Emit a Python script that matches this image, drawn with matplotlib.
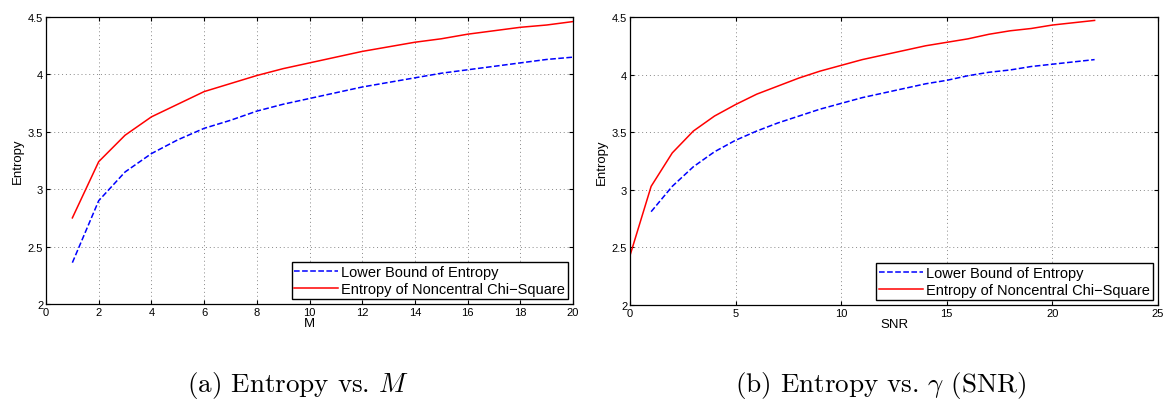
import matplotlib
matplotlib.use("Agg")
import matplotlib.pyplot as plt

plt.rcParams["font.family"] = ["Liberation Sans", "DejaVu Sans"]
plt.rcParams["mathtext.fontset"] = "cm"

# (a) entropy vs. M
m_vals = list(range(1, 21))
m_lower = [2.36, 2.90, 3.15, 3.31, 3.43, 3.53, 3.60, 3.68, 3.74, 3.79,
           3.84, 3.89, 3.93, 3.97, 4.01, 4.04, 4.07, 4.10, 4.13, 4.15]
m_chi = [2.75, 3.24, 3.47, 3.63, 3.74, 3.85, 3.92, 3.99, 4.05, 4.10,
         4.15, 4.20, 4.24, 4.28, 4.31, 4.35, 4.38, 4.41, 4.43, 4.46]

# (b) entropy vs. SNR
snr_lower_x = list(range(1, 23))
snr_lower = [2.81, 3.03, 3.20, 3.33, 3.43, 3.51, 3.58, 3.64, 3.70, 3.75,
             3.80, 3.84, 3.88, 3.92, 3.95, 3.99, 4.02, 4.04, 4.07, 4.09,
             4.11, 4.13]
snr_chi_x = list(range(0, 23))
snr_chi = [2.43, 3.03, 3.32, 3.51, 3.64, 3.74, 3.83, 3.90, 3.97, 4.03,
           4.08, 4.13, 4.17, 4.21, 4.25, 4.28, 4.31, 4.35, 4.38, 4.40,
           4.43, 4.45, 4.47]

labels = ["Lower Bound of Entropy", "Entropy of Noncentral Chi\u2212Square"]

fig = plt.figure(figsize=(11.68, 4.02), dpi=100)
ax1 = fig.add_axes([0.0394, 0.2413, 0.4512, 0.714])
ax2 = fig.add_axes([0.5394, 0.2388, 0.452, 0.7165])


def style(ax, xlim, xticks, xlabel):
    ax.set_xlim(xlim)
    ax.set_ylim(2, 4.5)
    ax.set_xticks(xticks)
    ax.set_yticks([2, 2.5, 3, 3.5, 4, 4.5])
    ax.set_yticklabels(["2", "2.5", "3", "3.5", "4", "4.5"])
    ax.grid(True, linestyle=(0, (1, 3)), color="#888888", linewidth=0.7)
    ax.tick_params(labelsize=8, direction="in", length=3, pad=2,
                   top=True, right=True)
    for s in ax.spines.values():
        s.set_linewidth(0.9)
    ax.set_xlabel(xlabel, fontsize=9.5, labelpad=0)
    ax.set_ylabel("Entropy", fontsize=9.5, labelpad=3)
    ax.legend(loc="lower right", fontsize=10.5, fancybox=False, framealpha=1,
              edgecolor="black", borderpad=0.2, handlelength=3,
              handletextpad=0.2, labelspacing=0.2, borderaxespad=0.35)


ax1.plot(m_vals, m_lower, "--", color="blue", lw=1.1, label=labels[0])
ax1.plot(m_vals, m_chi, "-", color="red", lw=1.1, label=labels[1])
style(ax1, (0, 20), range(0, 21, 2), "M")

ax2.plot(snr_lower_x, snr_lower, "--", color="blue", lw=1.1, label=labels[0])
ax2.plot(snr_chi_x, snr_chi, "-", color="red", lw=1.1, label=labels[1])
style(ax2, (0, 25), range(0, 26, 5), "SNR")

fig.text(0.255, 0.024, r"(a) Entropy vs. $M$", fontsize=19.5,
         family="cmr10", ha="center", va="baseline")
fig.text(0.754, 0.024, r"(b) Entropy vs. $\gamma$ (SNR)", fontsize=19.5,
         family="cmr10", ha="center", va="baseline")

fig.savefig("out.png", dpi=100)
